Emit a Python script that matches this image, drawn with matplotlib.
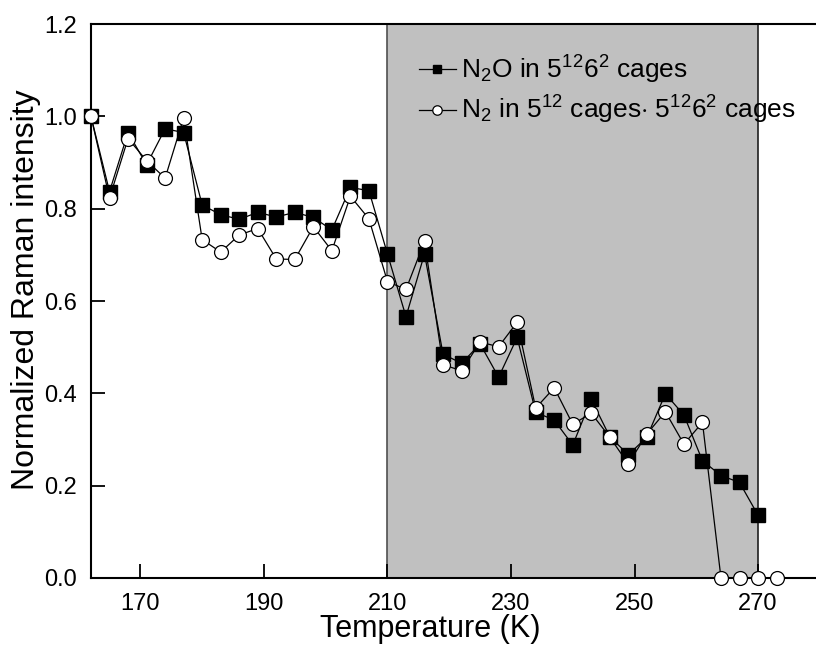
import numpy as np
import matplotlib
matplotlib.use("Agg")
import matplotlib.pyplot as plt

plt.rcParams['font.family'] = ['Liberation Sans', 'DejaVu Sans']
plt.rcParams['mathtext.fontset'] = 'custom'
plt.rcParams['mathtext.rm'] = 'Liberation Sans'
plt.rcParams['mathtext.it'] = 'Liberation Sans:italic'

# Temperatures (K)
temp_n2o = [162, 165, 168, 171, 174, 177, 180, 183, 186, 189, 192, 195, 198,
            201, 204, 207, 210, 213, 216, 219, 222, 225, 228, 231, 234, 237,
            240, 243, 246, 249, 252, 255, 258, 261, 264, 267, 270]
temp_n2 = temp_n2o + [273]

# Normalized Raman intensity
n2o = [1.0, 0.837, 0.965, 0.895, 0.973, 0.965, 0.808, 0.787, 0.777, 0.792,
       0.782, 0.792, 0.781, 0.754, 0.846, 0.839, 0.702, 0.566, 0.702, 0.485,
       0.465, 0.507, 0.435, 0.521, 0.359, 0.342, 0.288, 0.387, 0.306, 0.267,
       0.305, 0.399, 0.353, 0.254, 0.222, 0.207, 0.136]
n2 = [1.0, 0.823, 0.952, 0.904, 0.866, 0.997, 0.733, 0.706, 0.743, 0.757,
      0.691, 0.690, 0.761, 0.709, 0.827, 0.778, 0.642, 0.625, 0.729, 0.462,
      0.449, 0.511, 0.501, 0.554, 0.368, 0.412, 0.333, 0.357, 0.305, 0.247,
      0.312, 0.360, 0.290, 0.337, 0.0, 0.0, 0.0, 0.0]

shade_lo, shade_hi = 210, 270
xticks = [170, 190, 210, 230, 250, 270]
yticks = [0.0, 0.2, 0.4, 0.6, 0.8, 1.0, 1.2]

fig = plt.figure(figsize=(8.16, 6.49), dpi=100)
ax = fig.add_axes([0.1115, 0.1094, 0.931, 0.8536])

ax.axvspan(shade_lo, shade_hi, facecolor='#c0c0c0', edgecolor='none', zorder=0)
ax.axvline(shade_lo, color='#505050', lw=1.2, zorder=1)
ax.axvline(shade_hi, color='#202020', lw=1.2, zorder=1)

ax.plot(temp_n2o, n2o, '-', color='black', lw=0.9, marker='s', ms=9.5,
        mfc='black', mec='black', clip_on=False, zorder=3,
        label=r'N$_2$O in 5$^{12}$6$^2$ cages')
ax.plot(temp_n2, n2, '-', color='black', lw=0.9, marker='o', ms=10,
        mfc='white', mec='black', mew=0.9, clip_on=False, zorder=4,
        label=r'N$_2$ in 5$^{12}$ cages$\cdot$ 5$^{12}$6$^2$ cages')

ax.set_xlim(162, 285)
ax.set_ylim(0, 1.2)
ax.set_xticks(xticks)
ax.set_yticks(yticks)
ax.set_yticklabels(['%.1f' % v for v in yticks])
ax.tick_params(direction='in', length=10, width=1.3, labelsize=17, pad=10)
ax.tick_params(axis='x', pad=11)
for s in ['left', 'bottom', 'top']:
    ax.spines[s].set_linewidth(1.5)
ax.spines['right'].set_visible(False)

ax.set_xlabel('Temperature (K)', fontsize=22)
ax.xaxis.set_label_coords(0.446, -0.065)
ax.set_ylabel('Normalized Raman intensity', fontsize=23)
ax.yaxis.set_label_coords(-0.066, 0.52)

ax.legend(loc='upper left', bbox_to_anchor=(0.414, 0.97), frameon=False,
          fontsize=19, borderpad=0, handlelength=1.4, handletextpad=0.2,
          markerscale=0.68, labelspacing=0.3)

fig.savefig('out.png', dpi=100)
